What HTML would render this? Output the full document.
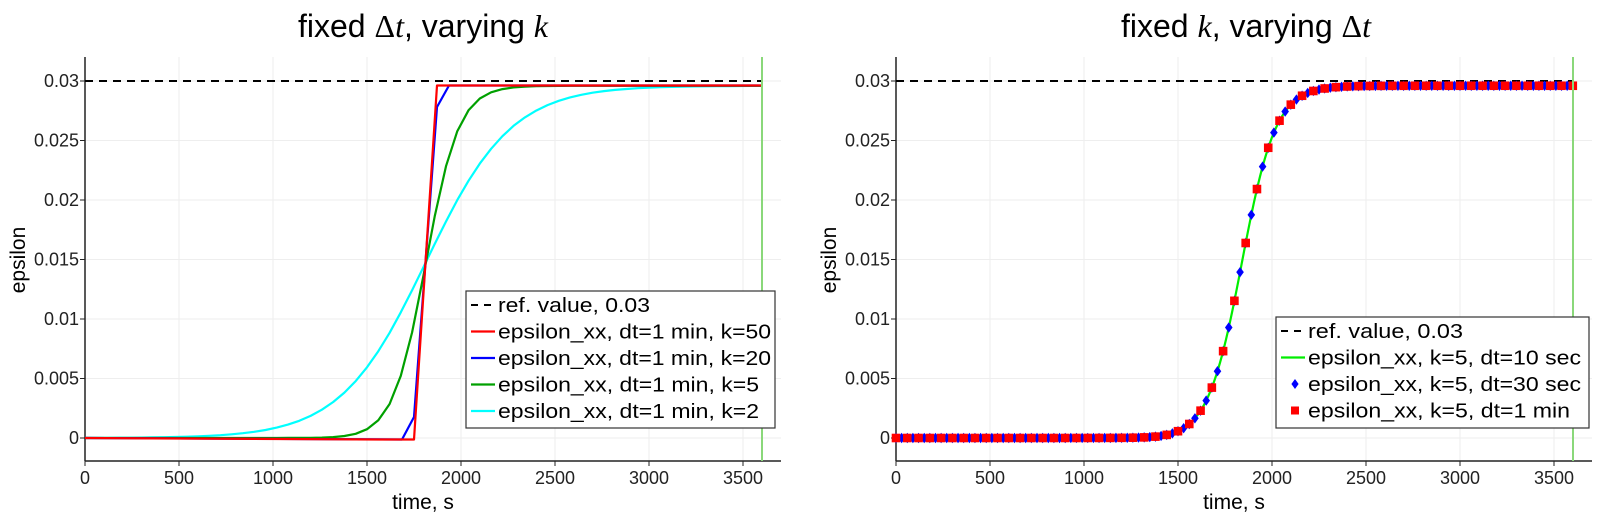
<!DOCTYPE html>
<html><head><meta charset="utf-8"><style>
html,body{margin:0;padding:0;background:#fff;}
svg{display:block;font-family:"Liberation Sans",sans-serif;}
</style></head><body>
<svg id="s" width="1620" height="522" xmlns="http://www.w3.org/2000/svg">
<rect width="1620" height="522" fill="#fff"/>
<g id="g"></g>
<text x="423" y="37" font-size="32" text-anchor="middle" fill="#000">fixed <tspan font-family="Liberation Serif,serif">Δ</tspan><tspan font-family="Liberation Serif,serif" font-style="italic">t</tspan>, varying <tspan font-family="Liberation Serif,serif" font-style="italic">k</tspan></text>
<text x="1246" y="37" font-size="32" text-anchor="middle" fill="#000">fixed <tspan font-family="Liberation Serif,serif" font-style="italic">k</tspan>, varying <tspan font-family="Liberation Serif,serif">Δ</tspan><tspan font-family="Liberation Serif,serif" font-style="italic">t</tspan></text>
</svg>
<script>
const g=document.getElementById('g');
let h='';
const S=0.188, Y0=438, YS=11900;
function axes(x0){
  const xmax=x0+696;
  for(let t=0;t<=3500;t+=500){const x=x0+t*S;h+=`<line x1="${x}" y1="57" x2="${x}" y2="461" stroke="#eeeeee" stroke-width="1"/>`;}
  for(let i=0;i<=6;i++){const y=Y0-i*0.005*YS;h+=`<line x1="${x0}" y1="${y}" x2="${xmax}" y2="${y}" stroke="#eeeeee" stroke-width="1"/>`;}
  h+=`<line x1="${x0}" y1="57" x2="${x0}" y2="461" stroke="#222" stroke-width="1.5"/>`;
  h+=`<line x1="${x0}" y1="461" x2="${xmax}" y2="461" stroke="#222" stroke-width="1.5"/>`;
  const yl=['0','0.005','0.01','0.015','0.02','0.025','0.03'];
  for(let i=0;i<=6;i++){const y=Y0-i*0.005*YS;h+=`<line x1="${x0-5}" y1="${y}" x2="${x0}" y2="${y}" stroke="#222"/><text x="${x0-6}" y="${y+6}" font-size="18" text-anchor="end" fill="#222">${yl[i]}</text>`;}
  for(let t=0;t<=3500;t+=500){const x=x0+t*S;h+=`<line x1="${x}" y1="461" x2="${x}" y2="466" stroke="#222"/><text x="${x}" y="484" font-size="18" text-anchor="middle" fill="#222">${t}</text>`;}
  h+=`<text x="${x0+338}" y="509" font-size="21" text-anchor="middle" fill="#000">time, s</text>`;
  h+=`<text transform="translate(${x0-60},260) rotate(-90)" font-size="21" text-anchor="middle" fill="#000">epsilon</text>`;
  h+=`<line x1="${x0}" y1="81" x2="${x0+677}" y2="81" stroke="#000" stroke-width="2" stroke-dasharray="8,6"/>`;
}
function logi(x,cx,s,A){return Y0-A*YS/(1+Math.exp(-(x-cx)/s));}
function dip(x,cx){const d=(x-cx+60)/40;return 1.2*Math.exp(-d*d);}
function path(f,x0,x1,step,col,w){let d='';for(let x=x0;x<=x1+0.01;x+=step){d+=(d?'L':'M')+x.toFixed(1)+','+f(x).toFixed(1);}h+=`<path d="${d}" fill="none" stroke="${col}" stroke-width="${w}" stroke-linejoin="round"/>`;}
axes(85); axes(896);
const L0=85,L1=85+677,cx=426,A=0.0296;
path(x=>logi(x,cx,42.7,A),L0,L1,11.28,'#00ffff',2.2);
path(x=>logi(x,cx,16.4,A)+0.5*dip(x,cx),L0,L1,11.28,'#00a000',2.2);
h+=`<path d="M${L0},438 L402,439.5 L414,417 L437,107 L449,85.5 L${L1},85.5" fill="none" stroke="#0000ff" stroke-width="2.2" stroke-linejoin="round"/>`;
h+=`<path d="M${L0},438 L380,439.5 L414,439.5 L437,85.5 L${L1},85.5" fill="none" stroke="#ff0000" stroke-width="2.2" stroke-linejoin="round"/>`;
const R0=896,R1=896+677,rc=1242;
const rf=x=>logi(x,rc,17,A)+dip(x,rc);
path(rf,R0,R1,2,'#00ee00',2.2);
for(let t=0;t<=3600.1;t+=30){const x=R0+t*S,y=rf(x);h+=`<path d="M${x},${y-5.2} L${x+3.8},${y} L${x},${y+5.2} L${x-3.8},${y} Z" fill="#0000ff"/>`;}
for(let t=0;t<=3600.1;t+=60){const x=R0+t*S,y=rf(x);h+=`<rect x="${x-4.3}" y="${y-4.3}" width="8.6" height="8.6" fill="#ff0000"/>`;}
h+=`<line x1="${85+677}" y1="57" x2="${85+677}" y2="461" stroke="#8ad87a" stroke-width="2"/>`;
h+=`<line x1="${896+677}" y1="57" x2="${896+677}" y2="461" stroke="#8ad87a" stroke-width="2"/>`;
function legend(x,y,w,hh,rows){
  h+=`<rect x="${x}" y="${y}" width="${w}" height="${hh}" fill="#fff" stroke="#333" stroke-width="1.2"/>`;
  rows.forEach((r,i)=>{const cy=y+14+i*26.5;const sx=x+5;
    if(r[0]=='dash')h+=`<line x1="${sx}" y1="${cy}" x2="${sx+24}" y2="${cy}" stroke="#000" stroke-width="2" stroke-dasharray="7,6"/>`;
    else if(r[0]=='line')h+=`<line x1="${sx}" y1="${cy}" x2="${sx+24}" y2="${cy}" stroke="${r[1]}" stroke-width="2.2"/>`;
    else if(r[0]=='dia')h+=`<path d="M${sx+14},${cy-5} L${sx+17.6},${cy} L${sx+14},${cy+5} L${sx+10.4},${cy} Z" fill="#0000ff"/>`;
    else if(r[0]=='sq')h+=`<rect x="${sx+10}" y="${cy-4}" width="8" height="8" fill="#ff0000"/>`;
    h+=`<text x="${sx+27}" y="${cy+7}" font-size="20" fill="#000" textLength="${r[3]}" lengthAdjust="spacingAndGlyphs">${r[2]}</text>`;});
}
legend(466,291,309,137,[['dash','#000','ref. value, 0.03',152],['line','#ff0000','epsilon_xx, dt=1 min, k=50',273],['line','#0000ff','epsilon_xx, dt=1 min, k=20',273],['line','#00a000','epsilon_xx, dt=1 min, k=5',261],['line','#00ffff','epsilon_xx, dt=1 min, k=2',261]]);
legend(1276,317,313,111,[['dash','#000','ref. value, 0.03',155],['line','#00ee00','epsilon_xx, k=5, dt=10 sec',273],['dia','#00f','epsilon_xx, k=5, dt=30 sec',273],['sq','#f00','epsilon_xx, k=5, dt=1 min',262]]);
g.innerHTML=h;
</script>
</body></html>
